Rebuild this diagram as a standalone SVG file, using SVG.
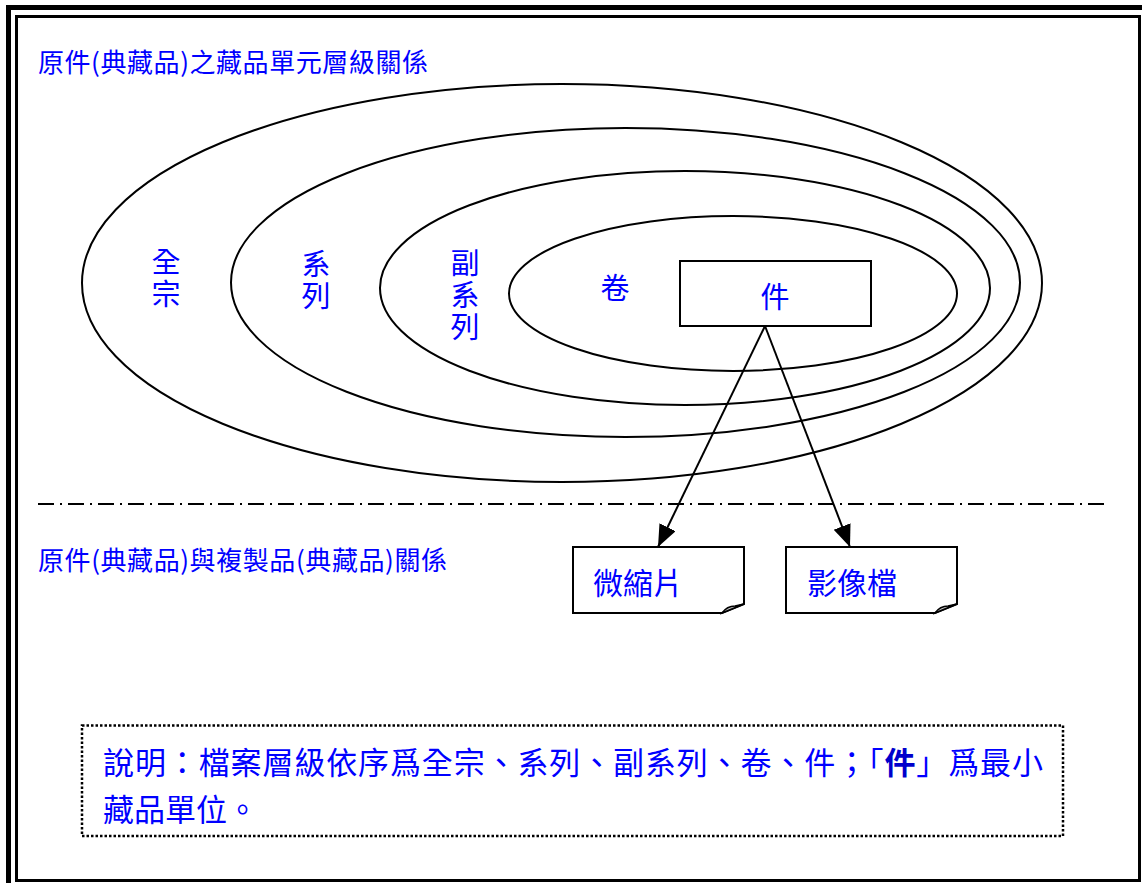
<svg xmlns="http://www.w3.org/2000/svg" width="1142" height="883" viewBox="0 0 1142 883">
<defs>
<style>
.t{font-family:"Noto Sans CJK TC","Liberation Serif",serif;fill:#0000ff;}
.lbl{font-size:29px;text-anchor:middle;}
.vert{font-size:29px;writing-mode:vertical-rl;letter-spacing:3px;}
.ell{fill:none;stroke:#000;stroke-width:2;}
.box{fill:#fff;stroke:#000;stroke-width:2;}
.conn{fill:none;stroke:#000;stroke-width:2;}
</style>
<marker id="arr" markerUnits="userSpaceOnUse" markerWidth="24" markerHeight="20" refX="22" refY="9" orient="auto" viewBox="0 0 24 20">
<path d="M0,0 L22,9 L0,18 Z" fill="#000"/>
</marker>
</defs>
<rect x="0" y="0" width="1142" height="883" fill="#fff"/>
<g id="frame">
<rect x="8.5" y="7.5" width="1200" height="1000" fill="none" stroke="#000" stroke-width="5"/>
<rect x="16.5" y="16.5" width="1123" height="864" fill="none" stroke="#000" stroke-width="3"/>
</g>
<text class="t" x="38" y="72" font-size="26" textLength="390" lengthAdjust="spacing">原件(典藏品)之藏品單元層級關係</text>
<g id="node-quanzong">
<ellipse class="ell" cx="562" cy="283" rx="480" ry="199"/>
<text class="t vert" x="166" y="247">全宗</text>
</g>
<g id="node-xilie">
<ellipse class="ell" cx="625.5" cy="282.5" rx="394.5" ry="154.5"/>
<text class="t vert" x="316" y="249">系列</text>
</g>
<g id="node-fuxilie">
<ellipse class="ell" cx="685" cy="288" rx="305" ry="117"/>
<text class="t vert" x="465" y="248">副系列</text>
</g>
<g id="node-juan">
<ellipse class="ell" cx="733" cy="293.5" rx="224" ry="77.5"/>
<text class="t lbl" x="615" y="299">卷</text>
</g>
<g id="node-jian">
<rect class="box" x="680" y="261" width="191" height="65"/>
<text class="t lbl" x="775" y="308">件</text>
</g>
<line x1="38" y1="504" x2="1108" y2="504" stroke="#000" stroke-width="2" stroke-dasharray="16 6 2 6"/>
<text class="t" x="38" y="570" font-size="26" textLength="409" lengthAdjust="spacing">原件(典藏品)與複製品(典藏品)關係</text>
<g id="connectors">
<line class="conn" x1="765" y1="326" x2="658" y2="547" marker-end="url(#arr)"/>
<line class="conn" x1="765" y1="326" x2="850" y2="547" marker-end="url(#arr)"/>
</g>
<g id="node-microfilm">
<path class="box" d="M573,547 H744 V604 L722,613 H573 Z"/>
<path d="M744,604 L722,613 Q727,606 735,606 Z" fill="#c8c8c8" stroke="#000" stroke-width="1.5"/>
<text class="t" x="593" y="594" font-size="30">微縮片</text>
</g>
<g id="node-image">
<path class="box" d="M786,547 H957 V604 L935,613 H786 Z"/>
<path d="M957,604 L935,613 Q940,606 948,606 Z" fill="#c8c8c8" stroke="#000" stroke-width="1.5"/>
<text class="t" x="807" y="594" font-size="30">影像檔</text>
</g>
<g id="note">
<rect x="82" y="725.5" width="981" height="110.5" fill="none" stroke="#000" stroke-width="2.5" stroke-dasharray="2.5 2"/>
<text class="t" x="103" y="774" font-size="31" textLength="940" lengthAdjust="spacing">說明：檔案層級依序爲全宗、系列、副系列、卷、件；「<tspan font-weight="bold" fill="#0000cc">件</tspan>」爲最小</text>
<text class="t" x="103" y="821" font-size="31">藏品單位。</text>
</g>
</svg>
